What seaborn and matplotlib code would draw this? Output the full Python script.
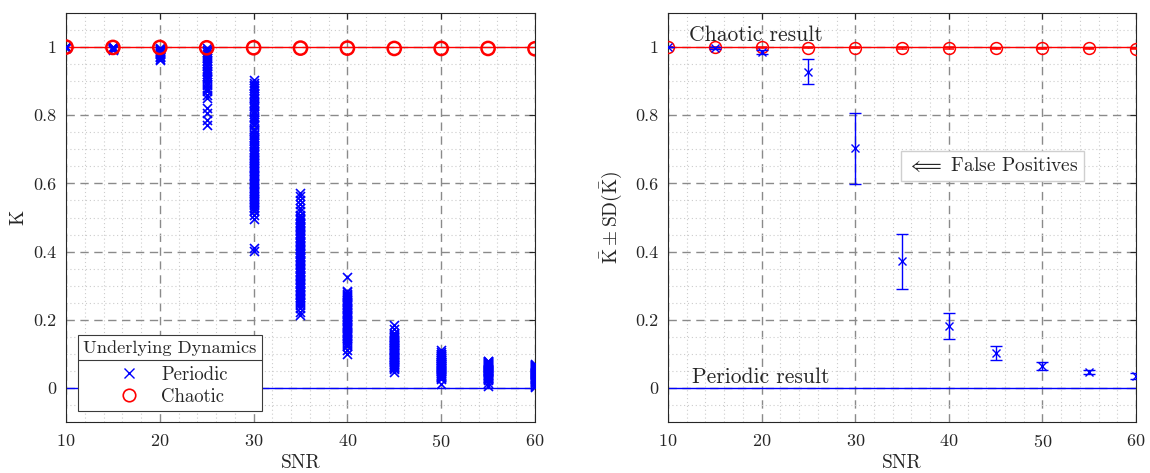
import matplotlib
matplotlib.use("Agg")
import matplotlib.pyplot as plt
from matplotlib.lines import Line2D
from matplotlib.ticker import MultipleLocator, FixedLocator, FixedFormatter
import numpy as np
import pandas as pd
import seaborn as sns

# ---------------------------------------------------------------------------
# Data
# ---------------------------------------------------------------------------
snr_levels = [10, 15, 20, 25, 30, 35, 40, 45, 50, 55, 60]

# 0-1 test statistic K for each realisation of the periodic signal, per SNR
k_snr10 = [1.000, 1.000, 0.999, 1.000, 0.999, 0.998]
k_snr15 = [1.000, 0.998, 0.997, 0.995, 0.999, 0.993, 0.996, 0.994, 0.998, 0.992]
k_snr20 = [0.998, 0.995, 0.990, 0.986, 0.982, 0.979, 0.975, 0.972, 0.988,
           0.993, 0.980, 0.970, 0.966, 0.984, 0.961]
k_snr25 = [0.998, 0.992, 0.986, 0.981, 0.975, 0.969, 0.962, 0.958, 0.953,
           0.947, 0.945, 0.936, 0.931, 0.928, 0.920, 0.914, 0.909, 0.905,
           0.898, 0.892, 0.889, 0.881, 0.876, 0.870, 0.859, 0.850, 0.820,
           0.806, 0.786, 0.771]
k_snr30 = [0.903, 0.895, 0.890, 0.886, 0.880, 0.874, 0.866, 0.861, 0.857,
           0.852, 0.848, 0.840, 0.836, 0.831, 0.826, 0.822, 0.813, 0.809,
           0.805, 0.796, 0.791, 0.787, 0.779, 0.774, 0.770, 0.761, 0.757,
           0.753, 0.744, 0.741, 0.735, 0.731, 0.727, 0.725, 0.718, 0.712,
           0.709, 0.701, 0.695, 0.692, 0.686, 0.683, 0.678, 0.675, 0.669,
           0.666, 0.660, 0.657, 0.652, 0.649, 0.644, 0.640, 0.635, 0.631,
           0.626, 0.623, 0.618, 0.614, 0.609, 0.605, 0.601, 0.597, 0.592,
           0.588, 0.583, 0.579, 0.575, 0.571, 0.566, 0.562, 0.557, 0.553,
           0.549, 0.545, 0.540, 0.536, 0.531, 0.527, 0.522, 0.518, 0.506,
           0.497, 0.410, 0.401]
k_snr35 = [0.571, 0.562, 0.551, 0.540, 0.529, 0.518, 0.508, 0.504, 0.500,
           0.496, 0.492, 0.488, 0.484, 0.480, 0.476, 0.472, 0.468, 0.464,
           0.460, 0.456, 0.452, 0.448, 0.444, 0.440, 0.436, 0.432, 0.428,
           0.424, 0.420, 0.416, 0.412, 0.408, 0.404, 0.400, 0.396, 0.392,
           0.388, 0.384, 0.380, 0.376, 0.372, 0.368, 0.364, 0.360, 0.356,
           0.352, 0.348, 0.344, 0.340, 0.336, 0.332, 0.328, 0.324, 0.320,
           0.316, 0.312, 0.308, 0.304, 0.300, 0.296, 0.292, 0.288, 0.284,
           0.280, 0.276, 0.272, 0.268, 0.264, 0.260, 0.256, 0.252, 0.248,
           0.244, 0.235, 0.224, 0.214]
k_snr40 = [0.325, 0.284, 0.280, 0.277, 0.273, 0.270, 0.266, 0.263, 0.259,
           0.256, 0.252, 0.249, 0.245, 0.242, 0.238, 0.235, 0.231, 0.228,
           0.224, 0.221, 0.217, 0.214, 0.210, 0.207, 0.203, 0.200, 0.196,
           0.193, 0.189, 0.186, 0.182, 0.179, 0.175, 0.172, 0.168, 0.165,
           0.161, 0.158, 0.154, 0.151, 0.147, 0.144, 0.140, 0.137, 0.133,
           0.130, 0.126, 0.123, 0.110, 0.100]
k_snr45 = [0.185, 0.172, 0.160, 0.157, 0.155, 0.152, 0.150, 0.147, 0.145,
           0.142, 0.140, 0.137, 0.135, 0.132, 0.130, 0.127, 0.125, 0.122,
           0.120, 0.117, 0.115, 0.112, 0.110, 0.107, 0.105, 0.102, 0.100,
           0.097, 0.095, 0.092, 0.090, 0.087, 0.085, 0.082, 0.080, 0.077,
           0.075, 0.072, 0.070, 0.067, 0.065, 0.062, 0.060, 0.057, 0.055,
           0.048]
k_snr50 = [0.110, 0.105, 0.101, 0.099, 0.097, 0.095, 0.093, 0.091, 0.089,
           0.087, 0.085, 0.083, 0.081, 0.079, 0.077, 0.075, 0.073, 0.071,
           0.069, 0.067, 0.065, 0.063, 0.061, 0.059, 0.057, 0.055, 0.053,
           0.051, 0.049, 0.047, 0.045, 0.043, 0.041, 0.039, 0.037, 0.035,
           0.033, 0.031, 0.028, 0.026, 0.012]
k_snr55 = [0.080, 0.078, 0.077, 0.075, 0.074, 0.072, 0.071, 0.069, 0.068,
           0.066, 0.065, 0.063, 0.062, 0.060, 0.059, 0.057, 0.056, 0.054,
           0.053, 0.051, 0.050, 0.048, 0.047, 0.045, 0.044, 0.042, 0.041,
           0.039, 0.038, 0.036, 0.035, 0.033, 0.032, 0.030, 0.029, 0.027,
           0.026, 0.022, 0.015, 0.005]
k_snr60 = [0.070, 0.068, 0.067, 0.065, 0.064, 0.062, 0.061, 0.059, 0.058,
           0.056, 0.055, 0.053, 0.052, 0.050, 0.049, 0.047, 0.046, 0.044,
           0.043, 0.041, 0.040, 0.038, 0.037, 0.035, 0.034, 0.032, 0.031,
           0.029, 0.028, 0.026, 0.025, 0.023, 0.022, 0.020, 0.019, 0.017,
           0.016, 0.013, 0.010, 0.006, 0.002]

# K for the chaotic signal (one value per SNR)
k_chaotic = [1.000, 0.999, 0.999, 0.998, 0.998, 0.997, 0.997, 0.996, 0.996,
             0.996, 0.995]

# Mean and standard deviation of K over the realisations
periodic_mean = [1.000, 0.996, 0.985, 0.928, 0.703, 0.371, 0.183, 0.103,
                 0.065, 0.047, 0.035]
periodic_sd = [0.000, 0.003, 0.006, 0.036, 0.104, 0.081, 0.038, 0.020,
               0.012, 0.006, 0.009]
chaotic_mean = [1.000, 0.999, 0.999, 0.998, 0.998, 0.997, 0.997, 0.996,
                0.996, 0.996, 0.995]
chaotic_sd = [0.000, 0.001, 0.001, 0.002, 0.002, 0.002, 0.002, 0.002,
              0.002, 0.002, 0.002]

x_ticks = [10, 20, 30, 40, 50, 60]
y_ticks = [0, 0.2, 0.4, 0.6, 0.8, 1]
y_tick_labels = ["0", "0.2", "0.4", "0.6", "0.8", "1"]

periodic_runs = [k_snr10, k_snr15, k_snr20, k_snr25, k_snr30, k_snr35,
                 k_snr40, k_snr45, k_snr50, k_snr55, k_snr60]
periodic_df = pd.DataFrame(
    [(s, k) for s, ks in zip(snr_levels, periodic_runs) for k in ks],
    columns=["SNR", "K"])
chaotic_df = pd.DataFrame({"SNR": snr_levels, "K": k_chaotic})
summary_df = pd.DataFrame({"SNR": snr_levels,
                           "per_mean": periodic_mean, "per_sd": periodic_sd,
                           "cha_mean": chaotic_mean, "cha_sd": chaotic_sd})

# ---------------------------------------------------------------------------
# Style
# ---------------------------------------------------------------------------
sns.set_theme(style="white")
plt.rcParams["font.family"] = ["cmr10", "DejaVu Serif"]
plt.rcParams["mathtext.fontset"] = "cm"
plt.rcParams["axes.formatter.use_mathtext"] = True
plt.rcParams["axes.unicode_minus"] = False

TICK_FS = 13
LABEL_FS = 14
NOTE_FS = 15.5
BLUE = "#0000ff"
RED = "#ff0000"

fig = plt.figure(figsize=(11.5, 4.73), dpi=100)
ax1 = fig.add_axes([0.0574, 0.1078, 0.4078, 0.8647])
ax2 = fig.add_axes([0.5809, 0.1078, 0.4070, 0.8647])


def style_axes(ax):
    ax.set_xlim(10, 60)
    ax.set_ylim(-0.1, 1.1)
    ax.xaxis.set_major_locator(FixedLocator(x_ticks))
    ax.xaxis.set_minor_locator(MultipleLocator(2))
    ax.yaxis.set_major_locator(FixedLocator(y_ticks))
    ax.yaxis.set_major_formatter(FixedFormatter(y_tick_labels))
    ax.yaxis.set_minor_locator(MultipleLocator(0.05))
    ax.grid(which="major", color="#8a8a8a", linestyle=(0, (6, 4)),
            linewidth=1.0)
    ax.grid(which="minor", color="#cccccc", linestyle=(0, (1, 2.5)),
            linewidth=0.8)
    ax.set_axisbelow(True)
    ax.tick_params(which="major", direction="in", length=4, width=0.8,
                   top=True, right=True, labelsize=TICK_FS, colors="#262626",
                   pad=8)
    ax.tick_params(axis="y", which="major", pad=7)
    ax.tick_params(which="minor", length=0)
    for sp in ax.spines.values():
        sp.set_color("#262626")
        sp.set_linewidth(0.8)
    ax.set_xlabel("SNR", fontsize=LABEL_FS, labelpad=3)


# ---------------------------------------------------------------------------
# Left: every realisation
# ---------------------------------------------------------------------------
style_axes(ax1)
ax1.axhline(1.0, color=RED, linewidth=1.0, zorder=2)
ax1.axhline(0.0, color=BLUE, linewidth=1.0, zorder=2)
sns.scatterplot(data=periodic_df, x="SNR", y="K", marker="x", color=BLUE,
                s=42, linewidth=1.2, ax=ax1, zorder=3, legend=False)
sns.scatterplot(data=chaotic_df, x="SNR", y="K", marker="o", s=90,
                facecolors="none", edgecolors=RED, linewidths=1.8,
                ax=ax1, zorder=4, legend=False)
for coll in ax1.collections[-1:]:
    coll.set_facecolor("none")
    coll.set_edgecolor(RED)
ax1.set_ylabel("K", fontsize=LABEL_FS, labelpad=4)

handles = [
    Line2D([], [], linestyle="none", marker="x", color=BLUE, markersize=6.5,
           markeredgewidth=1.0, label="Periodic"),
    Line2D([], [], linestyle="none", marker="o", markerfacecolor="none",
           markeredgecolor=RED, markersize=9, markeredgewidth=1.2,
           label="Chaotic"),
]
leg = ax1.legend(handles=handles, title="Underlying Dynamics",
                 loc="lower left", bbox_to_anchor=(0.0256, 0.027),
                 borderaxespad=0, fontsize=13.5, title_fontsize=13.2,
                 fancybox=False, framealpha=1, edgecolor="#3a3a3a",
                 handletextpad=0.8, handlelength=1.8, labelspacing=0.2,
                 borderpad=0.28)
leg.get_frame().set_linewidth(0.8)
leg._legend_box.sep = 7

# ---------------------------------------------------------------------------
# Right: mean +/- standard deviation
# ---------------------------------------------------------------------------
style_axes(ax2)
ax2.axhline(1.0, color=RED, linewidth=1.0, zorder=2)
ax2.axhline(0.0, color=BLUE, linewidth=1.0, zorder=2)
ax2.errorbar(summary_df["SNR"], summary_df["cha_mean"],
             yerr=summary_df["cha_sd"], fmt="o", color=RED,
             markerfacecolor="none", markersize=8.5, markeredgewidth=1.1,
             elinewidth=1.0, capsize=3.5, capthick=1.6, zorder=3)
ax2.errorbar(summary_df["SNR"], summary_df["per_mean"],
             yerr=summary_df["per_sd"], fmt="x", color=BLUE, markersize=6,
             markeredgewidth=1.0, elinewidth=1.0, capsize=4, capthick=1.0,
             zorder=4)
ax2.set_ylabel(r"$\bar{\mathrm{K}} \pm \mathrm{SD}(\bar{\mathrm{K}})$",
               fontsize=LABEL_FS, labelpad=8)
ax2.text(12.2, 1.006, "Chaotic result", fontsize=NOTE_FS, va="bottom",
         ha="left", zorder=5)
ax2.text(12.6, 0.013, "Periodic result", fontsize=NOTE_FS, va="baseline",
         ha="left", zorder=5)
ax2.text(35.5, 0.651, r"$\Longleftarrow$ False Positives", fontsize=LABEL_FS,
         va="center", ha="left", zorder=5,
         bbox=dict(boxstyle="square,pad=0.3", facecolor="white",
                   edgecolor="#cfcfcf", linewidth=1.0))

# Separator between the legend title and its entries
fig.canvas.draw()
renderer = fig.canvas.get_renderer()
frame_bb = leg.get_frame().get_window_extent(renderer)
title_bb = leg.get_title().get_window_extent(renderer)
sep_y = title_bb.y0 - 3.5
inv = fig.transFigure.inverted()
(fx0, fy), (fx1, _) = inv.transform([(frame_bb.x0, sep_y), (frame_bb.x1, sep_y)])
fig.add_artist(Line2D([fx0, fx1], [fy, fy], color="#3a3a3a", linewidth=0.8,
                      transform=fig.transFigure, zorder=10))

fig.savefig("out.png", dpi=100, facecolor="white")
